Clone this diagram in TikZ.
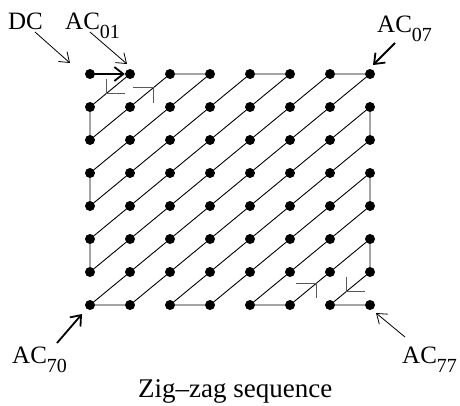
\documentclass[tikz,border=0pt]{standalone}
\usepackage{fontspec}
\setmainfont{Liberation Serif}
\usetikzlibrary{arrows.meta,calc}
\newcommand\lsub[1]{\raisebox{-9pt}{\fontsize{20}{20}\selectfont #1}}
\begin{document}
\begin{tikzpicture}[x=1pt,y=-1pt,
  dot/.style={circle,fill=black,inner sep=0pt,minimum size=10pt},
  zz/.style={line width=0.9pt},
  dirmark/.style={line width=0.9pt,black!65},
  lbl/.style={font=\fontsize{25}{25}\selectfont,inner sep=0pt,anchor=base west},
  thinarr/.style={line width=0.8pt,-{Straight Barb[length=9pt,width=13pt]}},
  thickarr/.style={line width=1.8pt,-{Straight Barb[length=9pt,width=14pt]}},
]
\useasboundingbox (0,0) rectangle (460,405);
\foreach \r in {0,...,7}{\foreach \c in {0,...,7}{\node[dot] (n\r\c) at ({90+40*\c},{74+33*\r}) {};}}
% zig-zag path
\draw[zz] (n01) -- (n10) -- (n20) -- (n11) -- (n02) -- (n03) -- (n12) -- (n21) -- (n30)
  -- (n40) -- (n31) -- (n22) -- (n13) -- (n04) -- (n05) -- (n14) -- (n23) -- (n32) -- (n41) -- (n50)
  -- (n60) -- (n51) -- (n42) -- (n33) -- (n24) -- (n15) -- (n06) -- (n07) -- (n16) -- (n25) -- (n34)
  -- (n43) -- (n52) -- (n61) -- (n70) -- (n71) -- (n62) -- (n53) -- (n44) -- (n35) -- (n26) -- (n17)
  -- (n27) -- (n36) -- (n45) -- (n54) -- (n63) -- (n72) -- (n73) -- (n64) -- (n55) -- (n46) -- (n37)
  -- (n47) -- (n56) -- (n65) -- (n74) -- (n75) -- (n66) -- (n57) -- (n67) -- (n76) -- (n77);
\draw[thickarr] (n00) -- (n01);
% direction marks
\coordinate (m1) at ($(n01)!0.6!(n10)$);
\draw[dirmark] ($(m1)+(0,-15)$) -- (m1) -- ($(m1)+(19,0)$);
\coordinate (m2) at ($(n02)!0.21!(n20)$);
\draw[dirmark] ($(m2)+(-20,0)$) -- (m2) -- ($(m2)+(0,15)$);
\coordinate (m3) at ($(n75)!0.33!(n57)$);
\draw[dirmark] ($(m3)+(-20,0)$) -- (m3) -- ($(m3)+(0,15)$);
\coordinate (m4) at ($(n67)!0.6!(n76)$);
\draw[dirmark] ($(m4)+(0,-15)$) -- (m4) -- ($(m4)+(19,0)$);
% labels
\node[lbl] (dc) at (8,29) {DC};
\node[lbl] (ac01) at (65,29) {AC\lsub{01}};
\node[lbl] (ac07) at (377,32) {AC\lsub{07}};
\node[lbl] (ac70) at (12,363) {AC\lsub{70}};
\node[lbl] (ac77) at (402,363) {AC\lsub{77}};
\node[font=\fontsize{27}{27}\selectfont,inner sep=0pt,anchor=base west] (cap) at (138,397) {Zig–zag sequence};
% label arrows
\coordinate (dcs) at (35,32); \coordinate (dce) at (70,63);
\draw[thinarr] (dcs) -- (dce);
\coordinate (a01s) at (90,32); \coordinate (a01e) at (127,64);
\draw[thinarr] (a01s) -- (a01e);
\coordinate (a07s) at (395,43); \coordinate (a07e) at (373,65);
\draw[thickarr] (a07s) -- (a07e);
\coordinate (a70s) at (57,343); \coordinate (a70e) at (82,314);
\draw[thickarr] (a70s) -- (a70e);
\coordinate (a77s) at (405,337); \coordinate (a77e) at (376,313);
\draw[thinarr] (a77s) -- (a77e);
\end{tikzpicture}
\end{document}
